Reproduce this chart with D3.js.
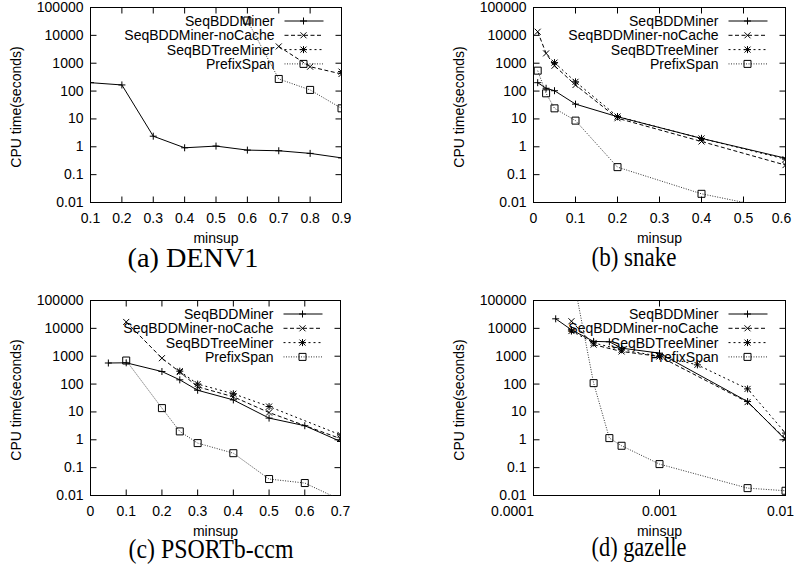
<!DOCTYPE html>
<html>
<head>
<meta charset="utf-8">
<script src="https://cdn.jsdelivr.net/npm/d3@7"></script>
<style>
body { margin: 0; background: #fff; }
svg { display: block; }
text { font-family: "Liberation Sans", Arial, sans-serif; font-size: 14px; fill: #000; }
</style>
</head>
<body>
<div id="chart"></div>
<script>
const seriesNames = ["SeqBDDMiner", "SeqBDDMiner-noCache", "SeqBDTreeMiner", "PrefixSpan"];
const yTickValues = [0.01, 0.1, 1, 10, 100, 1000, 10000, 100000];
const yTickLabels = ["0.01", "0.1", "1", "10", "100", "1000", "10000", "100000"];

// (a) DENV1
const denvTicks = [0.1, 0.2, 0.3, 0.4, 0.5, 0.6, 0.7, 0.8, 0.9];
const denvTickLabels = ["0.1", "0.2", "0.3", "0.4", "0.5", "0.6", "0.7", "0.8", "0.9"];
const denvBddX = [0.1, 0.2, 0.3, 0.4, 0.5, 0.6, 0.7, 0.8, 0.9];
const denvBdd = [200, 166, 2.4, 0.92, 1.06, 0.76, 0.72, 0.58, 0.40];
const denvNoCacheX = [0.7, 0.8, 0.9];
const denvNoCache = [4000, 750, 410];
const denvTreeX = [0.9];
const denvTree = [500];
const denvPrefixX = [0.6, 0.7, 0.8, 0.9];
const denvPrefix = [34000, 272, 110, 24];

// (b) snake
const snakeTicks = [0, 0.1, 0.2, 0.3, 0.4, 0.5, 0.6];
const snakeTickLabels = ["0", "0.1", "0.2", "0.3", "0.4", "0.5", "0.6"];
const snakeBddX = [0.01, 0.03, 0.05, 0.1, 0.2, 0.4, 0.6];
const snakeBdd = [200, 126, 103, 34, 12, 2.0, 0.39];
const snakeNoCacheX = [0.01, 0.03, 0.05, 0.1, 0.2, 0.4, 0.6];
const snakeNoCache = [13500, 2250, 810, 165, 10.6, 1.55, 0.22];
const snakeTreeX = [0.05, 0.1, 0.2, 0.4, 0.6];
const snakeTree = [1050, 215, 12.2, 2.0, 0.36];
const snakePrefixX = [0.01, 0.03, 0.05, 0.1, 0.2, 0.4, 0.6];
const snakePrefix = [540, 83, 24, 8.7, 0.186, 0.0205, 0.005];

// (c) PSORTb-ccm
const psortTicks = [0, 0.1, 0.2, 0.3, 0.4, 0.5, 0.6, 0.7];
const psortTickLabels = ["0", "0.1", "0.2", "0.3", "0.4", "0.5", "0.6", "0.7"];
const psortBddX = [0.05, 0.1, 0.2, 0.25, 0.3, 0.4, 0.5, 0.6, 0.7];
const psortBdd = [570, 580, 282, 142, 60, 27, 6.0, 3.2, 0.87];
const psortNoCacheX = [0.1, 0.2, 0.25, 0.3, 0.4, 0.5, 0.7];
const psortNoCache = [17000, 850, 270, 80, 35, 9.5, 1.1];
const psortTreeX = [0.25, 0.3, 0.4, 0.5, 0.7];
const psortTree = [290, 100, 45, 15.6, 1.5];
const psortPrefixX = [0.1, 0.2, 0.25, 0.3, 0.4, 0.5, 0.6, 0.7];
const psortPrefix = [700, 13.7, 2.0, 0.76, 0.33, 0.039, 0.028, 0.007];

// (d) gazelle
const gazTicks = [0.0001, 0.001, 0.01];
const gazTickLabels = ["0.0001", "0.001", "0.01"];
const gazBddX = [0.00015, 0.0002, 0.0003, 0.0004, 0.0005, 0.001, 0.005, 0.01];
const gazBdd = [22000, 8900, 3400, 3300, 1950, 1290, 23.6, 1.0];
const gazNoCacheX = [0.0002, 0.0003, 0.0005, 0.001, 0.005, 0.01];
const gazNoCache = [18000, 2600, 1480, 980, 22.5, 1.08];
const gazTreeX = [0.0002, 0.0003, 0.0005, 0.001, 0.002, 0.005, 0.01];
const gazTree = [8000, 3000, 1700, 1000, 490, 67, 1.74];
const gazPrefixX = [0.0002, 0.0003, 0.0004, 0.0005, 0.001, 0.005, 0.01];
const gazPrefix = [1400000, 108, 1.15, 0.61, 0.134, 0.0184, 0.0148];

const zip = (xs, ys) => xs.map((v, i) => [v, ys[i]]);

const panels = [
    { caption: "(a) DENV1", capX: 193, capY: 266.5, capW: 131, log: false, xDomain: [0.1, 0.9],
      ticks: denvTicks, labels: denvTickLabels, labelDx: {},
      left: 90.5, right: 341.5, top: 7.5, bottom: 202.5,
      series: [zip(denvBddX, denvBdd), zip(denvNoCacheX, denvNoCache), zip(denvTreeX, denvTree), zip(denvPrefixX, denvPrefix)] },
    { caption: "(b) snake", capX: 634, capY: 265.5, capW: 85, log: false, xDomain: [0, 0.6],
      ticks: snakeTicks, labels: snakeTickLabels, labelDx: { 6: -4 },
      left: 533.5, right: 785.5, top: 7.5, bottom: 202.5,
      series: [zip(snakeBddX, snakeBdd), zip(snakeNoCacheX, snakeNoCache), zip(snakeTreeX, snakeTree), zip(snakePrefixX, snakePrefix)] },
    { caption: "(c) PSORTb-ccm", capX: 211, capY: 558, capW: 165, log: false, xDomain: [0, 0.7],
      ticks: psortTicks, labels: psortTickLabels, labelDx: {},
      left: 90.5, right: 340.5, top: 300.5, bottom: 495.5,
      series: [zip(psortBddX, psortBdd), zip(psortNoCacheX, psortNoCache), zip(psortTreeX, psortTree), zip(psortPrefixX, psortPrefix)] },
    { caption: "(d) gazelle", capX: 639, capY: 555.5, capW: 95, log: true, xDomain: [0.0001, 0.01],
      ticks: gazTicks, labels: gazTickLabels, labelDx: { 0: -21, 2: -5 },
      left: 533.5, right: 785.5, top: 300.5, bottom: 495.5,
      series: [zip(gazBddX, gazBdd), zip(gazNoCacheX, gazNoCache), zip(gazTreeX, gazTree), zip(gazPrefixX, gazPrefix)] }
];

const styles = [
    { dash: null, marker: "plus", color: "#000" },
    { dash: "4,2.5", marker: "cross", color: "#000" },
    { dash: "2,3", marker: "star", color: "#000" },
    { dash: "1,1.5", marker: "box", color: "#333" }
];

const markerPath = {
    plus: "M-3.5,0H3.5M0,-3.5V3.5",
    cross: "M-3,-3L3,3M-3,3L3,-3",
    star: "M-3.5,0H3.5M0,-3.5V3.5M-3,-3L3,3M-3,3L3,-3",
    box: "M-3.5,-3.5h7v7h-7z"
};

const svg = d3.select("#chart")
    .append("svg")
    .attr("width", 796)
    .attr("height", 569);

panels.forEach((p, pi) => {
    const x = (p.log ? d3.scaleLog() : d3.scaleLinear())
        .domain(p.xDomain)
        .range([p.left, p.right]);
    const y = d3.scaleLog()
        .domain([0.01, 100000])
        .range([p.bottom, p.top]);

    const g = svg.append("g");

    g.append("clipPath")
        .attr("id", "clip" + pi)
        .append("rect")
        .attr("x", p.left)
        .attr("y", p.top)
        .attr("width", p.right - p.left)
        .attr("height", p.bottom - p.top);

    // axes, ticks pointing inward, mirrored on top and right
    const styleAxis = sel => {
        sel.select(".domain").remove();
        sel.selectAll("line").attr("stroke", "#000");
        sel.selectAll("text").attr("fill", "#000").style("font-size", "14px")
            .attr("font-family", null);
    };

    g.append("g")
        .attr("transform", `translate(0,${p.bottom})`)
        .call(d3.axisBottom(x).offset(0).tickValues(p.ticks)
            .tickFormat((d, i) => p.labels[i]).tickSize(-6).tickPadding(10.5))
        .call(styleAxis)
        .selectAll("text")
        .attr("dx", (d, i) => p.labelDx[i] || 0);
    g.append("g")
        .attr("transform", `translate(0,${p.top})`)
        .call(d3.axisTop(x).offset(0).tickValues(p.ticks).tickFormat("").tickSize(-6))
        .call(styleAxis);
    g.append("g")
        .attr("transform", `translate(${p.left},0)`)
        .call(d3.axisLeft(y).offset(0).tickValues(yTickValues)
            .tickFormat((d, i) => yTickLabels[i]).tickSize(-6).tickPadding(7))
        .call(styleAxis);
    g.append("g")
        .attr("transform", `translate(${p.right},0)`)
        .call(d3.axisRight(y).offset(0).tickValues(yTickValues).tickFormat("").tickSize(-6))
        .call(styleAxis);

    g.append("rect")
        .attr("x", p.left)
        .attr("y", p.top)
        .attr("width", p.right - p.left)
        .attr("height", p.bottom - p.top)
        .attr("fill", "none")
        .attr("stroke", "#000");

    // axis titles
    g.append("text")
        .attr("x", (p.left + p.right) / 2)
        .attr("y", p.bottom + 40)
        .attr("text-anchor", "middle")
        .text("minsup");
    g.append("text")
        .attr("transform", `translate(${p.left - 70},${(p.top + p.bottom) / 2 + 2}) rotate(-90)`)
        .attr("text-anchor", "middle")
        .text("CPU time(seconds)");

    // key
    const key = g.append("g");
    seriesNames.forEach((name, i) => {
        const ky = p.top + 13.5 + i * 14.3;
        const s = styles[i];
        key.append("text")
            .attr("x", p.right - 67)
            .attr("y", ky + 5)
            .attr("text-anchor", "end")
            .text(name);
        key.append("line")
            .attr("x1", p.right - 57)
            .attr("x2", p.right - 18)
            .attr("y1", ky)
            .attr("y2", ky)
            .attr("stroke", s.color)
            .attr("stroke-dasharray", s.dash);
        key.append("path")
            .attr("transform", `translate(${p.right - 38},${ky})`)
            .attr("d", markerPath[s.marker])
            .attr("fill", "none")
            .attr("stroke", "#000");
    });

    // data
    const plot = g.append("g").attr("clip-path", `url(#clip${pi})`);
    const line = d3.line().x(d => x(d[0])).y(d => y(d[1]));

    p.series.forEach((pts, i) => {
        const s = styles[i];
        plot.append("path")
            .datum(pts)
            .attr("d", line)
            .attr("fill", "none")
            .attr("stroke", s.color)
            .attr("stroke-width", 1)
            .attr("stroke-dasharray", s.dash);
        plot.selectAll(null)
            .data(pts)
            .enter().append("path")
            .attr("transform", d => `translate(${x(d[0])},${y(d[1])})`)
            .attr("d", markerPath[s.marker])
            .attr("fill", "none")
            .attr("stroke", "#000");
    });

    // caption under each subfigure
    g.append("text")
        .attr("x", p.capX)
        .attr("y", p.capY)
        .attr("text-anchor", "middle")
        .attr("textLength", p.capW)
        .attr("lengthAdjust", "spacingAndGlyphs")
        .style("font-family", "'Liberation Serif', 'Times New Roman', serif")
        .style("font-size", "27px")
        .text(p.caption);
});
</script>
</body>
</html>
